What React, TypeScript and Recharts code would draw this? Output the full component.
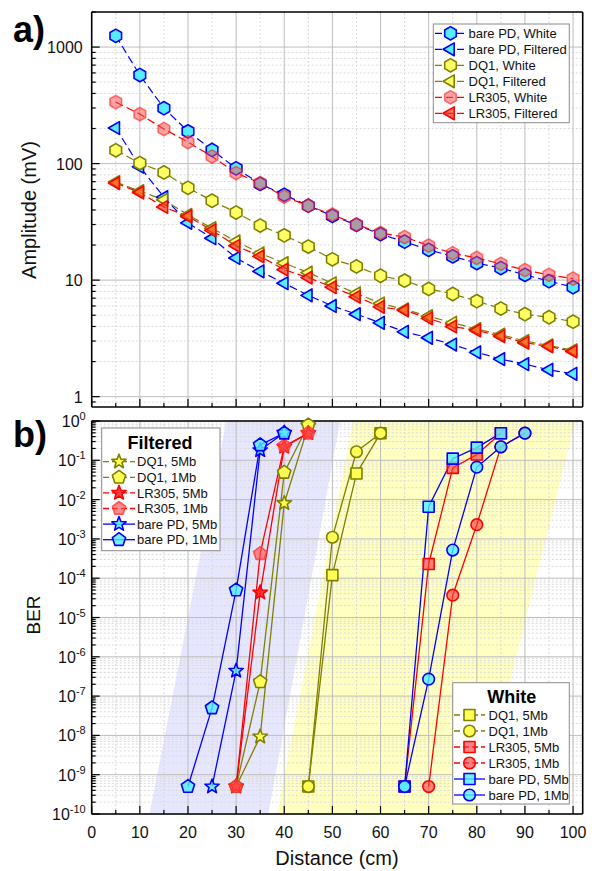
import React from 'react'
import { ComposedChart, Line, Area, XAxis, YAxis, ReferenceLine } from 'recharts'

const FONT = '"Liberation Sans", Arial, sans-serif'
const BLUE = '#0000ff'
const OLIVE = '#808000'
const RED = '#ff0000'
const GRID_MAJOR = '#bdbdbd'
const GRID_MINOR = '#d9d9d9'

// ---------- panel a: amplitude vs distance ----------
const DIST = [5, 10, 15, 20, 25, 30, 35, 40, 45, 50, 55, 60, 65, 70, 75, 80, 85, 90, 95, 100]
const PD_WHITE = [1250, 575, 299, 189, 131, 91, 67, 54, 43.5, 35.6, 29.8, 24.8, 21.4, 18.2, 16, 14, 12.7, 11.1, 9.8, 8.7]
const PD_FILT = [202, 94, 51.5, 31, 22.9, 15.5, 11.9, 9.4, 7.4, 6.0, 5.1, 4.3, 3.6, 3.2, 2.8, 2.4, 2.1, 1.9, 1.7, 1.57]
const DQ1_WHITE = [130, 101, 84, 62, 48, 38, 29.4, 24.2, 19.4, 15.1, 13.1, 10.9, 9.9, 8.4, 7.6, 6.6, 5.7, 5.1, 4.8, 4.4]
const DQ1_FILT = [69.5, 58, 48.9, 36.3, 27.9, 21.5, 17, 14, 11.6, 9.4, 7.7, 6.3, 5.6, 4.9, 4.3, 3.8, 3.4, 3.0, 2.75, 2.5]
const LR_WHITE = [337, 266, 198, 153, 115, 83, 68, 52, 43.5, 36.5, 30, 25.4, 23.4, 19.8, 17, 15.5, 13.8, 12.2, 11.1, 10.3]
const LR_FILT = [68, 56.5, 42.4, 35.2, 26.7, 19.7, 16, 12.3, 10.5, 8.7, 7.2, 5.9, 5.5, 4.7, 4.0, 3.7, 3.3, 2.9, 2.7, 2.44]

// ---------- panel b: BER vs distance ----------
// Filtered
const F_DQ1_5_X = [30, 35, 40, 45]
const F_DQ1_5_Y = [5e-10, 9.3e-9, 8.1e-3, 0.75]
const F_DQ1_1_X = [30, 35, 40, 45]
const F_DQ1_1_Y = [5e-10, 2.3e-7, 0.049, 0.79]
const F_LR_5_X = [30, 35, 40, 45]
const F_LR_5_Y = [5e-10, 4.3e-5, 0.22, 0.49]
const F_LR_1_X = [30, 35, 40, 45]
const F_LR_1_Y = [5e-10, 4.2e-4, 0.23, 0.49]
const F_PD_5_X = [25, 30, 35, 40]
const F_PD_5_Y = [5e-10, 4.4e-7, 0.18, 0.5]
const F_PD_1_X = [20, 25, 30, 35, 40]
const F_PD_1_Y = [5e-10, 5e-8, 5e-5, 0.245, 0.49]
// White
const W_DQ1_5_X = [45, 50, 55, 60]
const W_DQ1_5_Y = [5e-10, 1.2e-4, 0.046, 0.49]
const W_DQ1_1_X = [45, 50, 55, 60]
const W_DQ1_1_Y = [5e-10, 1.1e-3, 0.165, 0.49]
const W_LR_5_X = [65, 70, 75, 80, 85]
const W_LR_5_Y = [5e-10, 2.3e-4, 0.064, 0.14, 0.49]
const W_LR_1_X = [70, 75, 80, 85, 90]
const W_LR_1_Y = [5e-10, 3.7e-5, 2.3e-3, 0.22, 0.49]
const W_PD_5_X = [65, 70, 75, 80, 85]
const W_PD_5_Y = [5e-10, 6.6e-3, 0.11, 0.21, 0.49]
const W_PD_1_X = [65, 70, 75, 80, 85, 90]
const W_PD_1_Y = [5e-10, 2.7e-7, 5.2e-4, 0.067, 0.22, 0.49]

// shaded bands (x, [low, high])
const BAND_BLUE_X = [12, 28, 36.7, 51.6]
const BAND_BLUE_LO = [1e-10, 1e-10, 1e-10, 1]
const BAND_BLUE_HI = [1e-10, 1, 1, 1]
const BAND_YEL_X = [38.5, 54.3, 80, 100.5]
const BAND_YEL_LO = [1e-10, 1e-10, 1e-10, 1]
const BAND_YEL_HI = [1e-10, 1, 1, 1]

// ---------- ticks ----------
const X_TICKS = [0, 5, 10, 15, 20, 25, 30, 35, 40, 45, 50, 55, 60, 65, 70, 75, 80, 85, 90, 95, 100]
const X_MAJOR = [10, 20, 30, 40, 50, 60, 70, 80, 90, 100]
const X_MINOR = [5, 15, 25, 35, 45, 55, 65, 75, 85, 95]
const MANT = [2, 3, 4, 5, 6, 7, 8, 9]
const A_DECADES = [1, 10, 100, 1000]
const B_DECADES = [1e-10, 1e-9, 1e-8, 1e-7, 1e-6, 1e-5, 1e-4, 1e-3, 1e-2, 1e-1, 1]
const A_Y_MINOR = [0.9, ...[1, 10, 100].flatMap((d) => MANT.map((m) => m * d)), 2000]
const B_Y_MINOR = B_DECADES.slice(0, -1).flatMap((d) => MANT.map((m) => m * d))
const A_Y_TICKS = [...A_DECADES, ...A_Y_MINOR].sort((a, b) => a - b)
const B_Y_TICKS = [...B_DECADES, ...B_Y_MINOR].sort((a, b) => a - b)

type Pt = { x: number; y: number }
const zip = (xs: number[], ys: number[]): Pt[] => xs.map((x, i) => ({ x, y: ys[i] }))
const band = (xs: number[], lo: number[], hi: number[]) => xs.map((x, i) => ({ x, r: [lo[i], hi[i]] }))
const isPow10 = (v: number) => Math.abs(Math.log10(v) - Math.round(Math.log10(v))) < 1e-6

// ---------- markers ----------
type St = { fill: string; stroke: string; fo?: number; so?: number }
type Kind = 'hex' | 'tri' | 'star' | 'pent' | 'square' | 'circle'

function polyPts(cx: number, cy: number, r: number, n: number, startDeg: number) {
  const pts: string[] = []
  for (let i = 0; i < n; i++) {
    const a = ((startDeg + (360 / n) * i) * Math.PI) / 180
    pts.push(`${cx + r * Math.cos(a)},${cy + r * Math.sin(a)}`)
  }
  return pts.join(' ')
}
function starPts(cx: number, cy: number, R: number, r: number) {
  const pts: string[] = []
  for (let i = 0; i < 10; i++) {
    const a = ((-90 + 36 * i) * Math.PI) / 180
    const rr = i % 2 === 0 ? R : r
    pts.push(`${cx + rr * Math.cos(a)},${cy + rr * Math.sin(a)}`)
  }
  return pts.join(' ')
}

function Marker({ kind, cx, cy, st }: { kind: Kind; cx: number; cy: number; st: St }) {
  const common = {
    fill: st.fill,
    fillOpacity: st.fo ?? 1,
    stroke: st.stroke,
    strokeOpacity: st.so ?? 1,
    strokeWidth: 1.6,
    strokeLinejoin: 'round' as const,
  }
  if (kind === 'hex') return <polygon points={polyPts(cx, cy, 6.7, 6, -90)} {...common} />
  if (kind === 'tri') return <polygon points={polyPts(cx, cy, 7.4, 3, 180)} {...common} />
  if (kind === 'pent') return <polygon points={polyPts(cx, cy, 7, 5, -90)} {...common} />
  if (kind === 'star') return <polygon points={starPts(cx, cy, 7.5, 3.2)} {...common} />
  if (kind === 'square') return <rect x={cx - 5.5} y={cy - 5.5} width={11} height={11} {...common} />
  return <circle cx={cx} cy={cy} r={5.8} {...common} />
}

const dotFn = (kind: Kind, st: St) => (p: any) => {
  if (p.cx == null || p.cy == null) return <g key={`n${p.index}`} />
  return <Marker key={`d${p.index}`} kind={kind} cx={p.cx} cy={p.cy} st={st} />
}

// ---------- styles ----------
const PD_ST: St = { fill: '#55eeff', stroke: BLUE }
const DQ_ST: St = { fill: '#ffff66', stroke: OLIVE }
const LRW_ST: St = { fill: '#ff4a4a', fo: 0.5, stroke: '#ff2020', so: 0.6 }
const LRF_ST: St = { fill: '#ff2a10', fo: 0.65, stroke: RED }

const B_PD_ST: St = { fill: '#55eeff', fo: 0.8, stroke: BLUE }
const B_DQ_ST: St = { fill: '#ffff55', stroke: OLIVE }
const B_LR5F_ST: St = { fill: '#ff2020', fo: 0.85, stroke: RED }
const B_LR1F_ST: St = { fill: '#ff5050', fo: 0.65, stroke: '#ff3030', so: 0.75 }
const B_LRW_ST: St = { fill: '#ff4040', fo: 0.65, stroke: RED }

type Series = { name: string; data: Pt[]; line: string; kind: Kind; st: St; dash?: string }

const TOP_SERIES: Series[] = [
  { name: 'bare PD, White', data: zip(DIST, PD_WHITE), line: BLUE, kind: 'hex', st: PD_ST },
  { name: 'bare PD, Filtered', data: zip(DIST, PD_FILT), line: BLUE, kind: 'tri', st: PD_ST },
  { name: 'DQ1, White', data: zip(DIST, DQ1_WHITE), line: OLIVE, kind: 'hex', st: DQ_ST },
  { name: 'DQ1, Filtered', data: zip(DIST, DQ1_FILT), line: OLIVE, kind: 'tri', st: DQ_ST },
  { name: 'LR305, White', data: zip(DIST, LR_WHITE), line: RED, kind: 'hex', st: LRW_ST },
  { name: 'LR305, Filtered', data: zip(DIST, LR_FILT), line: RED, kind: 'tri', st: LRF_ST },
]

const FILT_SERIES: Series[] = [
  { name: 'DQ1, 5Mb', data: zip(F_DQ1_5_X, F_DQ1_5_Y), line: OLIVE, kind: 'star', st: B_DQ_ST, dash: '6 3' },
  { name: 'DQ1, 1Mb', data: zip(F_DQ1_1_X, F_DQ1_1_Y), line: OLIVE, kind: 'pent', st: B_DQ_ST, dash: '6 3' },
  { name: 'LR305, 5Mb', data: zip(F_LR_5_X, F_LR_5_Y), line: RED, kind: 'star', st: B_LR5F_ST, dash: '6 3' },
  { name: 'LR305, 1Mb', data: zip(F_LR_1_X, F_LR_1_Y), line: RED, kind: 'pent', st: B_LR1F_ST, dash: '6 3' },
  { name: 'bare PD, 5Mb', data: zip(F_PD_5_X, F_PD_5_Y), line: BLUE, kind: 'star', st: B_PD_ST },
  { name: 'bare PD, 1Mb', data: zip(F_PD_1_X, F_PD_1_Y), line: BLUE, kind: 'pent', st: B_PD_ST },
]

const WHITE_SERIES: Series[] = [
  { name: 'DQ1, 5Mb', data: zip(W_DQ1_5_X, W_DQ1_5_Y), line: OLIVE, kind: 'square', st: B_DQ_ST, dash: '6 3' },
  { name: 'DQ1, 1Mb', data: zip(W_DQ1_1_X, W_DQ1_1_Y), line: OLIVE, kind: 'circle', st: B_DQ_ST, dash: '6 3' },
  { name: 'LR305, 5Mb', data: zip(W_LR_5_X, W_LR_5_Y), line: RED, kind: 'square', st: B_LRW_ST, dash: '6 3' },
  { name: 'LR305, 1Mb', data: zip(W_LR_1_X, W_LR_1_Y), line: RED, kind: 'circle', st: B_LRW_ST, dash: '6 3' },
  { name: 'bare PD, 5Mb', data: zip(W_PD_5_X, W_PD_5_Y), line: BLUE, kind: 'square', st: B_PD_ST },
  { name: 'bare PD, 1Mb', data: zip(W_PD_1_X, W_PD_1_Y), line: BLUE, kind: 'circle', st: B_PD_ST },
]

// ---------- ticks (drawn inward) ----------
const AXIS = { stroke: '#000', strokeWidth: 1.6 }

function BottomTick(p: any) {
  const { x, y, payload, labels } = p
  const v = payload.value
  const major = v % 10 === 0
  return (
    <g>
      <line x1={x} x2={x} y1={y} y2={y - (major ? 8 : 4)} stroke="#000" strokeWidth={1.2} />
      {labels && major && (
        <text x={x} y={y + 23.5} textAnchor="middle" fontSize={16} fontFamily={FONT} fill="#111">
          {v}
        </text>
      )}
    </g>
  )
}
function TopTick(p: any) {
  const { x, y, payload } = p
  const major = payload.value % 10 === 0
  return <line x1={x} x2={x} y1={y} y2={y + (major ? 8 : 4)} stroke="#000" strokeWidth={1.2} />
}
function LeftTickA(p: any) {
  const { x, y, payload } = p
  const v = payload.value
  const major = isPow10(v)
  return (
    <g>
      <line x1={x} x2={x + (major ? 8 : 4)} y1={y} y2={y} stroke="#000" strokeWidth={1.2} />
      {major && (
        <text x={x - 9} y={y + 6} textAnchor="end" fontSize={16} fontFamily={FONT} fill="#111">
          {v}
        </text>
      )}
    </g>
  )
}
function LeftTickB(p: any) {
  const { x, y, payload } = p
  const v = payload.value
  const major = isPow10(v)
  const e = Math.round(Math.log10(v))
  return (
    <g>
      <line x1={x} x2={x + (major ? 8 : 4)} y1={y} y2={y} stroke="#000" strokeWidth={1.2} />
      {major && (
        <text x={x - 6} y={y + 6} textAnchor="end" fontSize={16} fontFamily={FONT} fill="#111">
          10
          <tspan dy={-7} fontSize={11}>
            {e}
          </tspan>
        </text>
      )}
    </g>
  )
}
function RightTick(p: any) {
  const { x, y, payload } = p
  const major = isPow10(payload.value)
  return <line x1={x} x2={x - (major ? 8 : 4)} y1={y} y2={y} stroke="#000" strokeWidth={1.2} />
}

const tickAxisProps = { tickSize: 0, tickMargin: 0, tickLine: false, interval: 0 as const, axisLine: AXIS }

function gridLines(yMajor: number[], yMinor: number[]) {
  return [
    ...X_MINOR.map((v) => <ReferenceLine key={`xm${v}`} x={v} stroke={GRID_MINOR} strokeDasharray="2 2" />),
    ...yMinor.map((v) => <ReferenceLine key={`ym${v}`} y={v} stroke={GRID_MINOR} strokeDasharray="2 2" />),
    ...X_MAJOR.map((v) => <ReferenceLine key={`xM${v}`} x={v} stroke={GRID_MAJOR} />),
    ...yMajor.map((v) => <ReferenceLine key={`yM${v}`} y={v} stroke={GRID_MAJOR} />),
  ]
}

// ---------- legend (overlay svg) ----------
function LegendRows({ series, top, step, x0, x1, mx, tx, solidDash }: any) {
  return series.map((s: Series, i: number) => {
    const y = top + i * step
    return (
      <g key={s.name + i}>
        <line x1={x0} x2={x1} y1={y} y2={y} stroke={s.line} strokeWidth={1.3} strokeDasharray={solidDash ?? s.dash} />
        <Marker kind={s.kind} cx={mx} cy={y} st={s.st} />
        <text x={tx} y={y + 4.6} fontSize={13} fontFamily={FONT} fill="#111">
          {s.name}
        </text>
      </g>
    )
  })
}

// axes are given a 1px box so that they render; margins are reduced by the same amount
const AX = 1

export default function App() {
  return (
    <div style={{ position: 'absolute', left: 0, top: 0, width: 592, height: 871, background: '#fff', fontFamily: FONT }}>
      {/* panel a */}
      <div style={{ position: 'absolute', left: 0, top: 0 }}>
        <ComposedChart width={592} height={420} margin={{ top: 12 - AX, right: 9.3 - AX, bottom: 13 - AX, left: 91.7 - AX }}>
          {gridLines(A_DECADES, A_Y_MINOR)}
          <XAxis type="number" dataKey="x" domain={[0, 102]} ticks={X_TICKS} height={AX} {...tickAxisProps} tick={(p: any) => <BottomTick {...p} labels={false} />} />
          <XAxis xAxisId="top" orientation="top" type="number" dataKey="x" domain={[0, 102]} ticks={X_TICKS} height={AX} {...tickAxisProps} tick={(p: any) => <TopTick {...p} />} />
          <YAxis type="number" scale="log" domain={[0.815, 2000]} ticks={A_Y_TICKS} width={AX} {...tickAxisProps} tick={(p: any) => <LeftTickA {...p} />} />
          <YAxis yAxisId="right" orientation="right" type="number" scale="log" domain={[0.815, 2000]} ticks={A_Y_TICKS} width={AX} {...tickAxisProps} tick={(p: any) => <RightTick {...p} />} />
          {TOP_SERIES.map((s) => (
            <Line
              key={s.name}
              data={s.data}
              dataKey="y"
              type="linear"
              stroke={s.line}
              strokeWidth={1.2}
              strokeDasharray="8 4"
              dot={dotFn(s.kind, s.st)}
              activeDot={false}
              isAnimationActive={false}
            />
          ))}
        </ComposedChart>
      </div>

      {/* panel b */}
      <div style={{ position: 'absolute', left: 0, top: 410 }}>
        <ComposedChart width={592} height={461} margin={{ top: 11 - AX, right: 9.3 - AX, bottom: 57 - AX, left: 91.7 - AX }}>
          <Area data={band(BAND_BLUE_X, BAND_BLUE_LO, BAND_BLUE_HI)} dataKey="r" type="linear" stroke="none" fill="#8080ff" fillOpacity={0.2} isAnimationActive={false} activeDot={false} />
          <Area data={band(BAND_YEL_X, BAND_YEL_LO, BAND_YEL_HI)} dataKey="r" type="linear" stroke="none" fill="#ffff00" fillOpacity={0.24} isAnimationActive={false} activeDot={false} />
          {gridLines(B_DECADES, B_Y_MINOR)}
          <XAxis type="number" dataKey="x" domain={[0, 102]} ticks={X_TICKS} height={AX} {...tickAxisProps} tick={(p: any) => <BottomTick {...p} labels={true} />} />
          <XAxis xAxisId="top" orientation="top" type="number" dataKey="x" domain={[0, 102]} ticks={X_TICKS} height={AX} {...tickAxisProps} tick={(p: any) => <TopTick {...p} />} />
          <YAxis type="number" scale="log" domain={[1e-10, 1]} ticks={B_Y_TICKS} width={AX} {...tickAxisProps} tick={(p: any) => <LeftTickB {...p} />} />
          <YAxis yAxisId="right" orientation="right" type="number" scale="log" domain={[1e-10, 1]} ticks={B_Y_TICKS} width={AX} {...tickAxisProps} tick={(p: any) => <RightTick {...p} />} />
          {[...FILT_SERIES, ...WHITE_SERIES].map((s, i) => (
            <Line
              key={s.name + i}
              data={s.data}
              dataKey="y"
              type="linear"
              stroke={s.line}
              strokeWidth={1.3}
              dot={dotFn(s.kind, s.st)}
              activeDot={false}
              isAnimationActive={false}
            />
          ))}
        </ComposedChart>
      </div>

      {/* labels and legends */}
      <svg width={592} height={871} style={{ position: 'absolute', left: 0, top: 0, pointerEvents: 'none' }}>
        <text x={13} y={42} fontSize={36} fontWeight="bold" fontFamily={FONT} fill="#000">a)</text>
        <text x={13} y={447} fontSize={36} fontWeight="bold" fontFamily={FONT} fill="#000">b)</text>
        <text x={36} y={210} transform="rotate(-90 36 210)" textAnchor="middle" fontSize={20} fontFamily={FONT} fill="#111">Amplitude (mV)</text>
        <text x={40} y={615} transform="rotate(-90 40 615)" textAnchor="middle" fontSize={19} fontFamily={FONT} fill="#111">BER</text>
        <text x={337} y={865} textAnchor="middle" fontSize={20} fontFamily={FONT} fill="#111">Distance (cm)</text>

        <rect x={433.3} y={24} width={136} height={98.7} fill="#fff" stroke="#8a8a8a" strokeWidth={1} />
        <LegendRows series={TOP_SERIES} top={33.3} step={16} x0={435} x1={466} mx={450.5} tx={468.5} solidDash="7 4" />

        <rect x={101.7} y={428} width={118.3} height={122.7} fill="#fff" stroke="#8a8a8a" strokeWidth={1} />
        <text x={160} y={448.5} textAnchor="middle" fontSize={18} fontWeight="bold" fontFamily={FONT} fill="#000">Filtered</text>
        <LegendRows series={FILT_SERIES} top={461.7} step={15.6} x0={103} x1={135} mx={119} tx={137} />

        <rect x={452.7} y={682.7} width={116.6} height={121.3} fill="#fff" stroke="#8a8a8a" strokeWidth={1} />
        <text x={511.7} y={702.5} textAnchor="middle" fontSize={18} fontWeight="bold" fontFamily={FONT} fill="#000">White</text>
        <LegendRows series={WHITE_SERIES} top={715} step={16} x0={454} x1={485} mx={469.5} tx={488.5} />
      </svg>
    </div>
  )
}
